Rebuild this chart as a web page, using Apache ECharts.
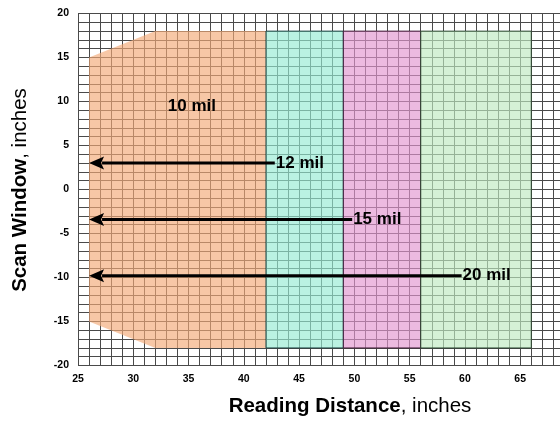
<!DOCTYPE html>
<html>
<head>
<meta charset="utf-8">
<script src="https://cdn.jsdelivr.net/npm/echarts@6/dist/echarts.min.js"></script>
<style>
html,body{margin:0;padding:0;background:#fff;}
#chart{width:560px;height:421px;}
</style>
</head>
<body>
<div id="chart"></div>
<script>
// ---- data ----
const xTicks = [25, 30, 35, 40, 45, 50, 55, 60, 65];
const yTicks = [-20, -15, -10, -5, 0, 5, 10, 15, 20];
const wideZoneX = [26, 32, 42, 42, 32, 26];
const wideZoneY = [15, 18, 18, -18, -18, -15];
const wideZoneLabel = '10 mil';
const wideZoneLabelX = 35.3;
const wideZoneLabelY = 9.4;
const bandStart = [42, 49, 56];
const bandEnd = [49, 56, 66];
const bandTop = [18, 18, 18];
const bandBottom = [-18, -18, -18];
const arrowLabels = ['12 mil', '15 mil', '20 mil'];
const arrowFromX = [42.8, 49.8, 59.7];
const arrowToX = [26, 26, 26];
const arrowY = [3, -3.4, -9.8];

// ---- styles ----
const wideZoneColor = 'rgba(243,169,118,0.65)';
const bandColors = ['rgba(149,235,210,0.65)', 'rgba(226,149,207,0.65)', 'rgba(190,234,192,0.65)'];
const bandBorders = ['rgba(20,60,60,0.85)', 'rgba(60,20,50,0.85)', 'rgba(30,60,35,0.8)'];
const FONT = 'Liberation Sans, Arial, Helvetica, sans-serif';

const chart = echarts.init(document.getElementById('chart'), null, {renderer: 'canvas'});

const option = {
  animation: false,
  backgroundColor: '#fff',
  grid: {left: 78, right: 0, top: 13.5, height: 352, containLabel: false, outerBoundsMode: 'none'},
  xAxis: {
    type: 'value', min: xTicks[0], max: 68.6, interval: 1,
    axisLine: {show: false}, axisTick: {show: false},
    splitLine: {show: true, lineStyle: {color: '#4a4a4a', width: 1}},
    axisLabel: {
      margin: 8, color: '#000', fontSize: 10.5, fontWeight: 'bold', fontFamily: FONT,
      showMaxLabel: false,
      formatter: v => xTicks.indexOf(v) >= 0 ? String(v) : ''
    }
  },
  yAxis: {
    type: 'value', min: yTicks[0], max: yTicks[yTicks.length - 1], interval: 1,
    axisLine: {show: false}, axisTick: {show: false},
    splitLine: {show: true, lineStyle: {color: '#4a4a4a', width: 1}},
    axisLabel: {
      margin: 9, color: '#000', fontSize: 10.5, fontWeight: 'bold', fontFamily: FONT,
      formatter: v => yTicks.indexOf(v) >= 0 ? String(v) : ''
    }
  },
  graphic: [
    {
      type: 'text', x: 350, y: 406,
      style: {
        text: '{b|Reading Distance}{n|, inches}',
        align: 'center', verticalAlign: 'middle',
        rich: {
          b: {fontSize: 20.5, fontWeight: 'bold', fontFamily: FONT, fill: '#000'},
          n: {fontSize: 20.5, fontWeight: 'normal', fontFamily: FONT, fill: '#000'}
        }
      }
    },
    {
      type: 'text', x: 20, y: 190, rotation: Math.PI / 2,
      style: {
        text: '{b|Scan Window}{n|, inches}',
        align: 'center', verticalAlign: 'middle',
        rich: {
          b: {fontSize: 20.5, fontWeight: 'bold', fontFamily: FONT, fill: '#000'},
          n: {fontSize: 20.5, fontWeight: 'normal', fontFamily: FONT, fill: '#000'}
        }
      }
    }
  ],
  series: [
    {
      type: 'custom', name: 'wide', z: 2, silent: true,
      data: [[wideZoneX[0], wideZoneY[0]]],
      renderItem: function (params, api) {
        const pts = wideZoneX.map((x, i) => api.coord([x, wideZoneY[i]]));
        const lp = api.coord([wideZoneLabelX, wideZoneLabelY]);
        return {
          type: 'group',
          children: [
            {type: 'polygon', shape: {points: pts}, style: {fill: wideZoneColor, stroke: null}},
            {type: 'text', x: lp[0], y: lp[1], style: {
              text: wideZoneLabel, align: 'center', verticalAlign: 'middle',
              fontSize: 17, fontWeight: 'bold', fontFamily: FONT, fill: '#000'}}
          ]
        };
      }
    },
    {
      type: 'custom', name: 'bands', z: 3, silent: true,
      data: bandStart.map((s, i) => [s, bandEnd[i], bandBottom[i], bandTop[i], i]),
      renderItem: function (params, api) {
        const p1 = api.coord([api.value(0), api.value(3)]);
        const p2 = api.coord([api.value(1), api.value(2)]);
        const i = api.value(4);
        return {
          type: 'rect',
          shape: {x: p1[0], y: p1[1], width: p2[0] - p1[0], height: p2[1] - p1[1]},
          style: {fill: bandColors[i], stroke: bandBorders[i], lineWidth: 1}
        };
      }
    },
    {
      type: 'custom', name: 'arrows', z: 5, silent: true,
      data: arrowLabels.map((l, i) => [arrowFromX[i], arrowY[i], arrowToX[i], i]),
      renderItem: function (params, api) {
        const s = api.coord([api.value(0), api.value(1)]);
        const e = api.coord([api.value(2), api.value(1)]);
        const i = api.value(3);
        const headLen = 15, headHalf = 6.5;
        return {
          type: 'group',
          children: [
            {type: 'line', shape: {x1: s[0], y1: s[1], x2: e[0] + headLen - 2, y2: e[1]},
             style: {stroke: '#000', lineWidth: 3}},
            {type: 'polygon', shape: {points: [[e[0], e[1]], [e[0] + headLen, e[1] - headHalf], [e[0] + headLen - 3, e[1]], [e[0] + headLen, e[1] + headHalf]]},
             style: {fill: '#000'}},
            {type: 'text', x: s[0] + 1, y: s[1], style: {
              text: arrowLabels[i], align: 'left', verticalAlign: 'middle',
              fontSize: 17, fontWeight: 'bold', fontFamily: FONT, fill: '#000'}}
          ]
        };
      }
    }
  ]
};
chart.setOption(option);
</script>
</body>
</html>
